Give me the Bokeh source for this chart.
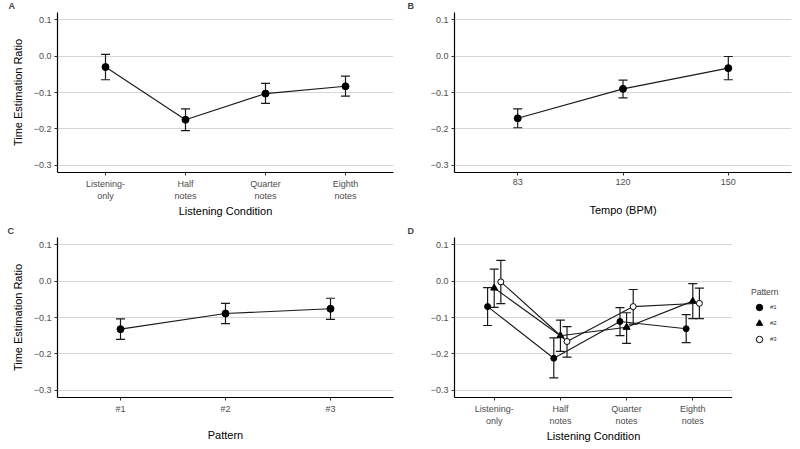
from bokeh.plotting import figure
from bokeh.models import (ColumnDataSource, Whisker, FixedTicker, Legend, LegendItem,
                          FactorRange, Range1d, TeeHead)
from bokeh.layouts import column, row
from bokeh.transform import dodge
from bokeh.embed import file_html
from bokeh.resources import INLINE

# ---------------- data ----------------
conditions = ["Listening-\nonly", "Half\nnotes", "Quarter\nnotes", "Eighth\nnotes"]
A_mean = [-0.030, -0.175, -0.103, -0.083]
A_lower = [-0.065, -0.205, -0.130, -0.110]
A_upper = [0.005, -0.145, -0.075, -0.055]

tempos = ["83", "120", "150"]
B_mean = [-0.171, -0.090, -0.033]
B_lower = [-0.197, -0.115, -0.065]
B_upper = [-0.145, -0.066, -0.001]

patterns = ["#1", "#2", "#3"]
C_mean = [-0.132, -0.089, -0.076]
C_lower = [-0.160, -0.117, -0.105]
C_upper = [-0.104, -0.061, -0.047]

D_p1_mean = [-0.070, -0.212, -0.111, -0.131]
D_p1_lower = [-0.122, -0.266, -0.150, -0.169]
D_p1_upper = [-0.018, -0.156, -0.073, -0.092]
D_p2_mean = [-0.019, -0.150, -0.127, -0.055]
D_p2_lower = [-0.072, -0.193, -0.171, -0.103]
D_p2_upper = [0.033, -0.107, -0.087, -0.007]
D_p3_mean = [-0.002, -0.166, -0.070, -0.061]
D_p3_lower = [-0.062, -0.209, -0.118, -0.103]
D_p3_upper = [0.057, -0.125, -0.023, -0.019]

pattern_markers = ["circle", "triangle", "circle"]
pattern_fills = ["black", "black", "white"]
pattern_sizes = [6, 7, 6]

y_ticks = [-0.3, -0.2, -0.1, 0.0, 0.1]
y_tick_labels = ["\u22120.3", "\u22120.2", "\u22120.1", "0.0", "0.1"]
y_limits = (-0.32, 0.12)

FONT = "Liberation Sans"
INK = "#1a1a1a"


def make_panel(factors, width, height, left, right, top, bottom, xlabel, ylabel,
               xlabel_standoff, letter, letter_x):
    p = figure(
        x_range=FactorRange(factors=factors, range_padding=0.1, range_padding_units="absolute"),
        y_range=Range1d(*y_limits),
        width=width, height=height,
        min_border_left=left, min_border_right=right,
        min_border_top=top, min_border_bottom=bottom,
        output_backend="svg", toolbar_location=None,
        title=letter,
    )
    p.title.text_font = FONT
    p.title.text_font_size = "9px"
    p.title.text_font_style = "bold"
    p.title.align = "left"
    p.title.vertical_align = "top"
    p.title.offset = letter_x
    p.title.standoff = 0
    p.outline_line_color = None
    p.background_fill_color = "white"
    p.border_fill_color = "white"
    p.xgrid.visible = False
    p.ygrid.ticker = FixedTicker(ticks=y_ticks)
    p.ygrid.grid_line_color = "#d6d6d6"
    p.ygrid.grid_line_width = 1.2

    p.yaxis.ticker = FixedTicker(ticks=y_ticks)
    p.yaxis.major_label_overrides = {t: s for t, s in zip(y_ticks, y_tick_labels)}
    for ax in (p.xaxis, p.yaxis):
        ax.axis_line_color = "black"
        ax.axis_line_width = 1.2
        ax.major_tick_line_color = "#333333"
        ax.major_tick_out = 3
        ax.major_tick_in = 0
        ax.minor_tick_line_color = None
        ax.major_label_text_font = FONT
        ax.major_label_text_font_size = "9px"
        ax.major_label_text_color = "#4d4d4d"
        ax.major_label_standoff = 3
        ax.axis_label_text_font = FONT
        ax.axis_label_text_font_size = "11px"
        ax.axis_label_text_font_style = "normal"
        ax.axis_label_text_color = "black"
    p.xaxis.axis_label = xlabel
    p.xaxis.axis_label_standoff = xlabel_standoff
    p.xaxis.major_label_orientation = "horizontal"
    if ylabel:
        p.yaxis.axis_label = ylabel
        p.yaxis.axis_label_standoff = 7
    return p


def add_series(p, factors, mean, lower, upper, offset=0.0, marker="circle",
               fill="black", size=7):
    src = ColumnDataSource(dict(x=factors, y=mean, lo=lower, hi=upper))
    xs = dodge("x", offset, range=p.x_range)
    p.line(x=xs, y="y", source=src, line_color=INK, line_width=1.1)
    w = Whisker(base=xs, upper="hi", lower="lo", source=src, dimension="height",
                line_color=INK, line_width=1.2,
                upper_head=TeeHead(size=9, line_color=INK, line_width=1.2),
                lower_head=TeeHead(size=9, line_color=INK, line_width=1.2))
    p.add_layout(w)
    r = p.scatter(x=xs, y="y", source=src, marker=marker, size=size,
                  fill_color=fill, line_color="black", line_width=1)
    return r


TOP_H, BOT_H = 225, 224

pA = make_panel(conditions, 400, TOP_H, 57, 7, 12, 53, "Listening Condition",
                "Time Estimation Ratio", 1, "A", -49)
add_series(pA, conditions, A_mean, A_lower, A_upper)

pB = make_panel(tempos, 400, TOP_H, 54, 9, 12, 53, "Tempo (BPM)", None, 16, "B", -47)
add_series(pB, tempos, B_mean, B_lower, B_upper)

pC = make_panel(patterns, 400, BOT_H, 57, 7, 10, 52, "Pattern",
                "Time Estimation Ratio", 12, "C", -50)
add_series(pC, patterns, C_mean, C_lower, C_upper)

pD = make_panel(conditions, 332, BOT_H, 54, 0, 10, 52, "Listening Condition", None, 1, "D", -47)
D_series = [(D_p1_mean, D_p1_lower, D_p1_upper, -0.1),
            (D_p2_mean, D_p2_lower, D_p2_upper, 0.0),
            (D_p3_mean, D_p3_lower, D_p3_upper, 0.1)]
for (m, lo, hi, off), mk, fc, sz in zip(D_series, pattern_markers, pattern_fills, pattern_sizes):
    add_series(pD, conditions, m, lo, hi, off, mk, fc, sz)

# legend panel for D (key glyphs only; NaN data draws no marks)
pL = figure(width=68, height=BOT_H, x_range=Range1d(0, 1), y_range=Range1d(0, 1),
            x_axis_type=None, y_axis_type=None, output_backend="svg", toolbar_location=None,
            min_border_left=19, min_border_right=0, min_border_top=10, min_border_bottom=52)
pL.outline_line_color = None
pL.grid.visible = False
key_renderers = []
for mk, fc, sz in zip(pattern_markers, pattern_fills, pattern_sizes):
    key_renderers.append(pL.scatter(x=[float("nan")], y=[float("nan")], marker=mk, size=sz,
                                    fill_color=fc, line_color="black", line_width=1))

legend = Legend(items=[LegendItem(label=l, renderers=[r]) for l, r in zip(patterns, key_renderers)],
                title="Pattern", location="center_left", orientation="vertical")
legend.title_text_font = FONT
legend.title_text_font_size = "8.5px"
legend.title_text_font_style = "normal"
legend.title_standoff = 2
legend.label_text_font = FONT
legend.label_text_font_size = "6px"
legend.label_text_color = "#333333"
legend.glyph_width = 16
legend.glyph_height = 16
legend.label_height = 16
legend.label_standoff = 3
legend.spacing = 0
legend.padding = 4
legend.margin = 0
legend.border_line_color = None
legend.background_fill_alpha = 0
pL.add_layout(legend)

layout = column(row(pA, pB), row(pC, pD, pL))

open("out.html", "w").write(file_html(layout, INLINE))
